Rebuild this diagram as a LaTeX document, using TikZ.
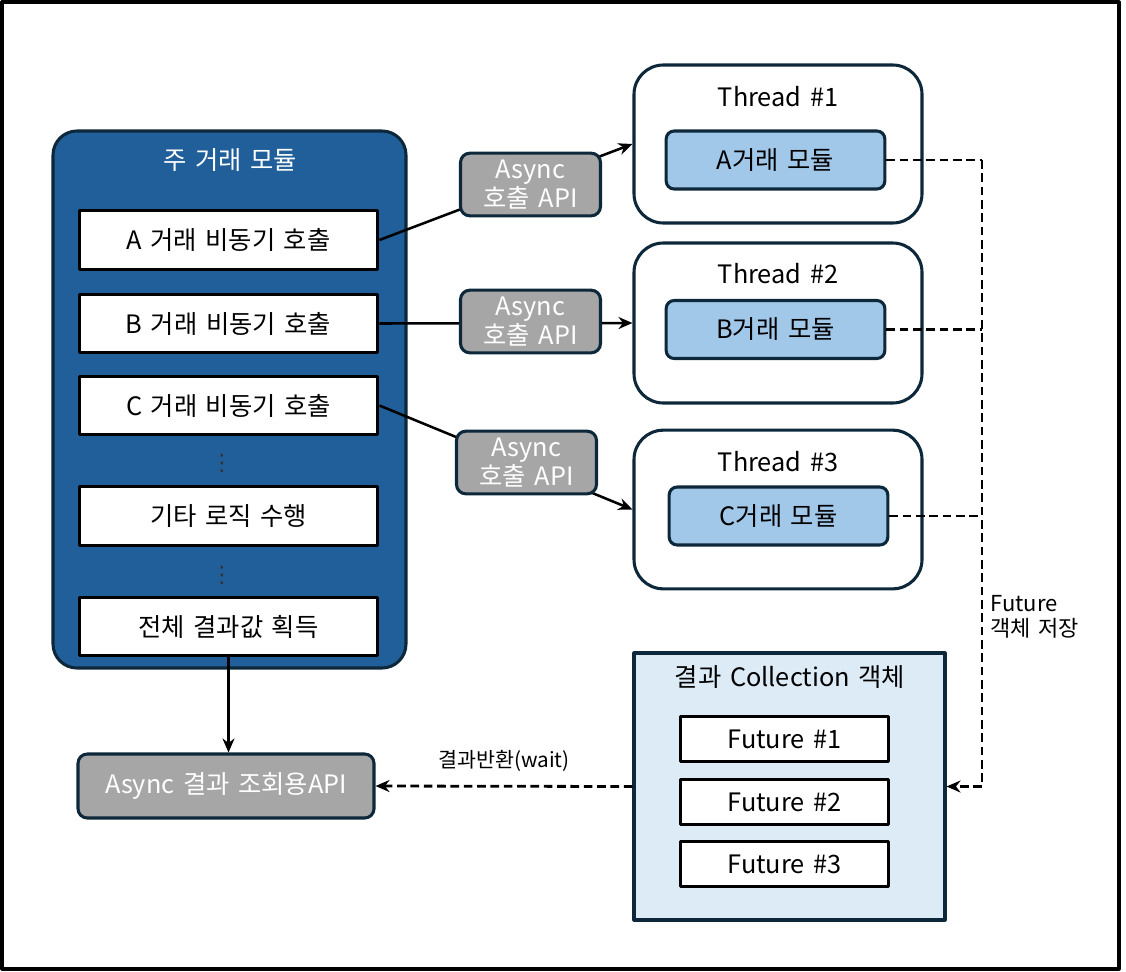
\documentclass[tikz,border=0pt]{standalone}
\usepackage{fontspec}
\setmainfont{Noto Sans CJK KR}[WordSpace=1.5]
\newfontfamily\dotsfont{DejaVu Sans}
\usetikzlibrary{arrows.meta,positioning}

\definecolor{navy}{RGB}{13,40,58}
\definecolor{mainblue}{RGB}{33,95,154}
\definecolor{apigray}{RGB}{166,166,166}
\definecolor{modblue}{RGB}{161,199,233}
\definecolor{collblue}{RGB}{221,235,247}

\begin{document}
\begin{tikzpicture}[x=0.75pt, y=-0.75pt, >={Stealth[length=10.5pt,width=9pt]}, line join=round,
    every node/.style={font=\fontsize{19}{22}\selectfont, inner sep=0pt},
    callbox/.style={draw=black, line width=2.4pt, fill=white, minimum width=224pt, minimum height=44pt},
    apibox/.style={draw=navy, line width=2.3pt, fill=apigray, text=white, rounded corners=7pt,
      minimum width=105pt, minimum height=47pt, align=center, font=\fontsize{19}{19}\selectfont},
    thrbox/.style={draw=navy, line width=2.3pt, fill=white, rounded corners=22pt, minimum width=216pt},
    modbox/.style={draw=navy, line width=2.3pt, fill=modblue, rounded corners=6pt, minimum width=164pt, minimum height=43.5pt},
    futbox/.style={draw=black, line width=2.4pt, fill=white, minimum width=156pt, minimum height=34pt},
    dotmark/.style={font=\dotsfont\fontsize{17}{17}\selectfont, text=black!80},
    link/.style={line width=1.9pt},
    dline/.style={line width=2.1pt, dash pattern=on 6.5pt off 3.5pt}]
    \useasboundingbox (0,0) rectangle (1126,971);
    \draw[line width=2.4pt] (2,2) rectangle (1119,969);

    % main module
    \node[draw=navy, line width=2.3pt, fill=mainblue, rounded corners=18pt,
      minimum width=264.75pt, minimum height=402.75pt] (mainmod) at (229.5,399.5) {};
    \node[text=white] (maintitle) at (230,160) {주 거래 모듈};
    \node[callbox] (callA) at (228.5,240) {A 거래 비동기 호출};
    \node[callbox] (callB) at (228.5,323.5) {B 거래 비동기 호출};
    \node[callbox] (callC) at (228.5,405.5) {C 거래 비동기 호출};
    \node[dotmark] (dots1) at (222,463) {⋮};
    \node[callbox] (etc) at (228.5,516) {기타 로직 수행};
    \node[dotmark] (dots2) at (222,575) {⋮};
    \node[callbox] (res) at (228.5,626.5) {전체 결과값 획득};

    % threads
    \node[thrbox, minimum height=118.5pt] (thr1) at (778,144) {};
    \node[thrbox, minimum height=120pt] (thr2) at (778,323) {};
    \node[thrbox, minimum height=119pt] (thr3) at (778,509.5) {};
    \node (thr1t) at (778,97) {Thread \#1};
    \node (thr2t) at (778,274) {Thread \#2};
    \node (thr3t) at (778,462) {Thread \#3};
    \node[modbox] (modA) at (775.5,160) {A거래 모듈};
    \node[modbox] (modB) at (775.5,329.5) {B거래 모듈};
    \node[modbox] (modC) at (778.5,516) {C거래 모듈};

    % calls
    \draw[link,->] (callA.east) -- (thr1.west);
    \draw[link,->] (callB.east) -- (thr2.west);
    \draw[link,->] (callC.east) -- (thr3.west);
    \node[apibox] (api1) at (530.5,184.5) {Async\\호출 API};
    \node[apibox] (api2) at (530.5,321.5) {Async\\호출 API};
    \node[apibox] (api3) at (526.5,462.5) {Async\\호출 API};

    % result collection
    \node[draw=navy, line width=2.3pt, fill=collblue, minimum width=233.25pt, minimum height=200.25pt] (coll) at (789.5,786.5) {};
    \node (colltitle) at (790,677) {결과 Collection 객체};
    \node[futbox] (fut1) at (784.5,739) {Future \#1};
    \node[futbox] (fut2) at (784.5,802) {Future \#2};
    \node[futbox] (fut3) at (784.5,864) {Future \#3};

    \node[draw=navy, line width=2.3pt, fill=apigray, text=white, rounded corners=7pt,
      minimum width=222pt, minimum height=48pt] (getapi) at (226,786) {Async 결과 조회용API};

    % futures
    \coordinate (bus) at (982,160);
    \draw[dline] (modA.east) -- (modA.east -| bus);
    \draw[dline] (modB.east) -- (modB.east -| bus);
    \draw[dline] (modC.east) -- (modC.east -| bus);
    \draw[dline,->] (bus) |- (coll.east);
    \node[anchor=north west, align=left, font=\fontsize{16.5}{19}\selectfont] (store) at (990,595) {Future\\객체 저장};

    \draw[link,->] (res.south) -- (res.south |- getapi.north);
    \draw[dline,->] (coll.west) -- (getapi.east)
      node[midway, above=10pt, font=\fontsize{15.5}{18}\selectfont] (ret) {결과반환(wait)};
\end{tikzpicture}
\end{document}
